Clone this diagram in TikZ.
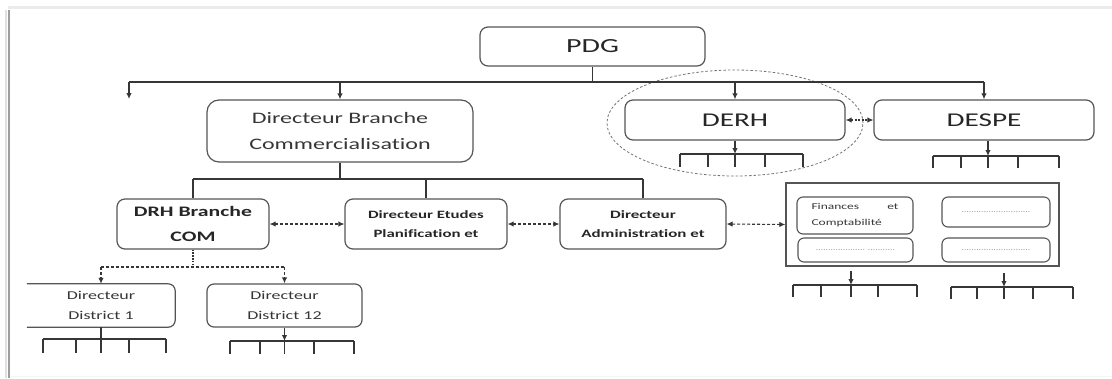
\documentclass[tikz,border=0pt]{standalone}
\usepackage{fontspec}
\setmainfont{Carlito}[FakeStretch=1.5,Ligatures={NoCommon}]
\usetikzlibrary{arrows.meta,shapes.geometric,calc}
\definecolor{ink}{HTML}{363636}
\definecolor{inkdark}{HTML}{262626}
\definecolor{wire}{HTML}{363636}
\definecolor{rim}{HTML}{555555}
\newcommand{\fsz}[2]{\fontsize{#1}{#2}\selectfont}
% five-tick comb: #1 name prefix, #2 bar y, #3 tick end y, #4 five x values
\newcommand{\combrow}[4]{%
  \foreach \cx [count=\ci] in {#4} {
    \coordinate (#1\ci) at (\cx,#2);
    \draw[conn] (#1\ci) -- (\cx,#3);
  }
  \draw[conn] (#11) -- (#15);
}
\begin{document}
\begin{tikzpicture}[x=1pt,y=-1pt,
  box/.style={draw=rim, line width=1.2pt, rounded corners=8pt, inner sep=0pt,
              text=ink, align=center},
  smallbox/.style={box, rounded corners=6pt, line width=1.1pt},
  conn/.style={draw=wire, line width=1.2pt},
  arr/.style={conn, -{Latex[length=6pt,width=5.5pt]}},
  darr/.style={conn, line width=1.1pt, dash pattern=on 3pt off 2pt,
               {Latex[length=6pt,width=5.5pt]}-{Latex[length=6pt,width=5.5pt]}},
  dline/.style={conn, dash pattern=on 3pt off 2pt},
  dots/.style={font=\fsz{6.5}{8}, text=gray}]
\useasboundingbox (0,0) rectangle (1112,378);

% page edge shadow
\draw[line width=3pt, color=black!8] (8,7) -- (1112,7);
\draw[line width=2pt, color=black!12] (6,10) -- (6,378);
\draw[line width=2pt, color=black!38] (9,10) -- (9,378);
\draw[line width=1pt, color=black!4] (10,376) -- (1112,376);

% top level
\node[box, minimum width=225pt, minimum height=39pt, font=\fsz{20}{24}, text=inkdark]
  (PDG) at (592.5,46.5) {PDG};

% second level
\node[box, rounded corners=12pt, minimum width=266pt, minimum height=62pt, font=\fsz{16}{27}]
  (DBC) at (340,131) {Directeur Branche\\Commercialisation};
\node[box, minimum width=220pt, minimum height=40pt, font=\fsz{19.5}{24}, text=inkdark]
  (DERH) at (735,120) {DERH};
\node[box, minimum width=220pt, minimum height=40pt, font=\fsz{19.5}{24}, text=inkdark]
  (DESPE) at (984,120) {DESPE};
\node[ellipse, draw=black!55, line width=0.8pt, dash pattern=on 2.5pt off 2pt,
      minimum width=256pt, minimum height=106pt, inner sep=0pt]
  (grp) at (735,123) {};

% third level
\node[box, minimum width=152pt, minimum height=50pt, font=\bfseries\fsz{14.5}{25}, text=inkdark]
  (DRH) at (193,224) {DRH Branche\\COM};
\node[box, minimum width=162pt, minimum height=50pt, font=\bfseries\fsz{11.2}{19}, text=inkdark]
  (ETU) at (426,224) {Directeur Etudes\\Planification et};
\node[box, minimum width=166pt, minimum height=50pt, font=\bfseries\fsz{11.3}{19}, text=inkdark]
  (ADM) at (643,224) {Directeur\\Administration et};

% services block
\node[draw=rim, line width=1.4pt, minimum width=273pt, minimum height=83pt, inner sep=0pt]
  (SRV) at (922.5,224.5) {};
\node[smallbox, minimum width=116pt, minimum height=37pt, text width=87pt, align=left,
      font=\fsz{9}{16}]
  (FIN) at (855,215.5) {Finances\hfill et\\Comptabilité};
\node[smallbox, minimum width=108pt, minimum height=30pt, dots]
  (SV2) at (996,212) {............................};
\node[smallbox, minimum width=115pt, minimum height=24pt, dots]
  (SV3) at (855.5,250) {.................... ...........};
\node[smallbox, minimum width=108pt, minimum height=24pt, dots]
  (SV4) at (996,250) {............................};

% districts
\node[inner sep=0pt, minimum width=148pt, minimum height=43pt, align=center, text=ink,
      font=\fsz{12}{20}]
  (D1) at (101,305.5) {Directeur\\District 1};
\draw[draw=rim, line width=1.2pt, rounded corners=7pt]
  (D1.north west) -- (D1.north east) -- (D1.south east) -- (D1.south west);
\node[box, rounded corners=7pt, minimum width=155pt, minimum height=43pt, font=\fsz{12}{20}]
  (D12) at (284.5,305.5) {Directeur\\District 12};

% top bus
\coordinate (busL) at (129,82);
\coordinate (busR) at (984,82);
\coordinate (freeA) at (129,99);
\draw[conn] (PDG.south) -- (PDG.south |- busL);
\draw[conn] (busL) -- (busR);
\draw[arr] (busL) -- (freeA);
\draw[arr] (DBC.north |- busL) -- (DBC.north);
\draw[arr] (DERH.north |- busL) -- (DERH.north);
\draw[arr] (busR) -- (DESPE.north);
\draw[darr, dash pattern=on 2pt off 1.5pt] (DERH.east) -- (DESPE.west);

% branch bus
\coordinate (busB) at (340,179);
\draw[conn] (DBC.south) -- (busB);
\draw[conn] (DRH.north |- busB) -- (ADM.north |- busB);
\draw[conn] (DRH.north |- busB) -- (DRH.north);
\draw[conn] (ETU.north |- busB) -- (ETU.north);
\draw[conn] (ADM.north |- busB) -- (ADM.north);

% peer links
\draw[darr] (DRH.east) -- (ETU.west);
\draw[darr] (ETU.east) -- (ADM.west);
\draw[darr] (ADM.east) -- (SRV.west);

% DRH to districts
\coordinate (busD) at (193,267);
\draw[dline, line width=1.6pt, dash pattern=on 1.6pt off 1.2pt] (DRH.south) -- (busD);
\draw[dline] (D1.north |- busD) -- (D12.north |- busD);
\draw[dline, -{Latex[length=6pt,width=5.5pt]}] (D1.north |- busD) -- (D1.north);
\draw[dline, -{Latex[length=6pt,width=5.5pt]}] (D12.north |- busD) -- (D12.north);

% sub-unit combs
\combrow{cd}{154}{167}{680,708,735,765,803}
\draw[arr] (DERH.south) -- (cd3);
\combrow{ce}{156}{168}{933,961,988,1018,1059}
\draw[arr] (ce3 |- DESPE.south) -- (ce3);
\combrow{ca}{339}{353}{43,76,101,129,166}
\draw[conn] (D1.south) -- (ca3);
\combrow{cb}{341}{354}{230,260,284.5,314,354}
\draw[arr] (D12.south) -- (cb3);
\combrow{cf}{285}{297}{793,821,851,878,917}
\draw[arr] ($(cf3 |- SRV.south)+(0,4)$) -- (cf3);
\combrow{cg}{287}{299}{951,977,1004,1033,1073}
\draw[arr] ($(cg3 |- SRV.south)+(0,6)$) -- (cg3);

\end{tikzpicture}
\end{document}
